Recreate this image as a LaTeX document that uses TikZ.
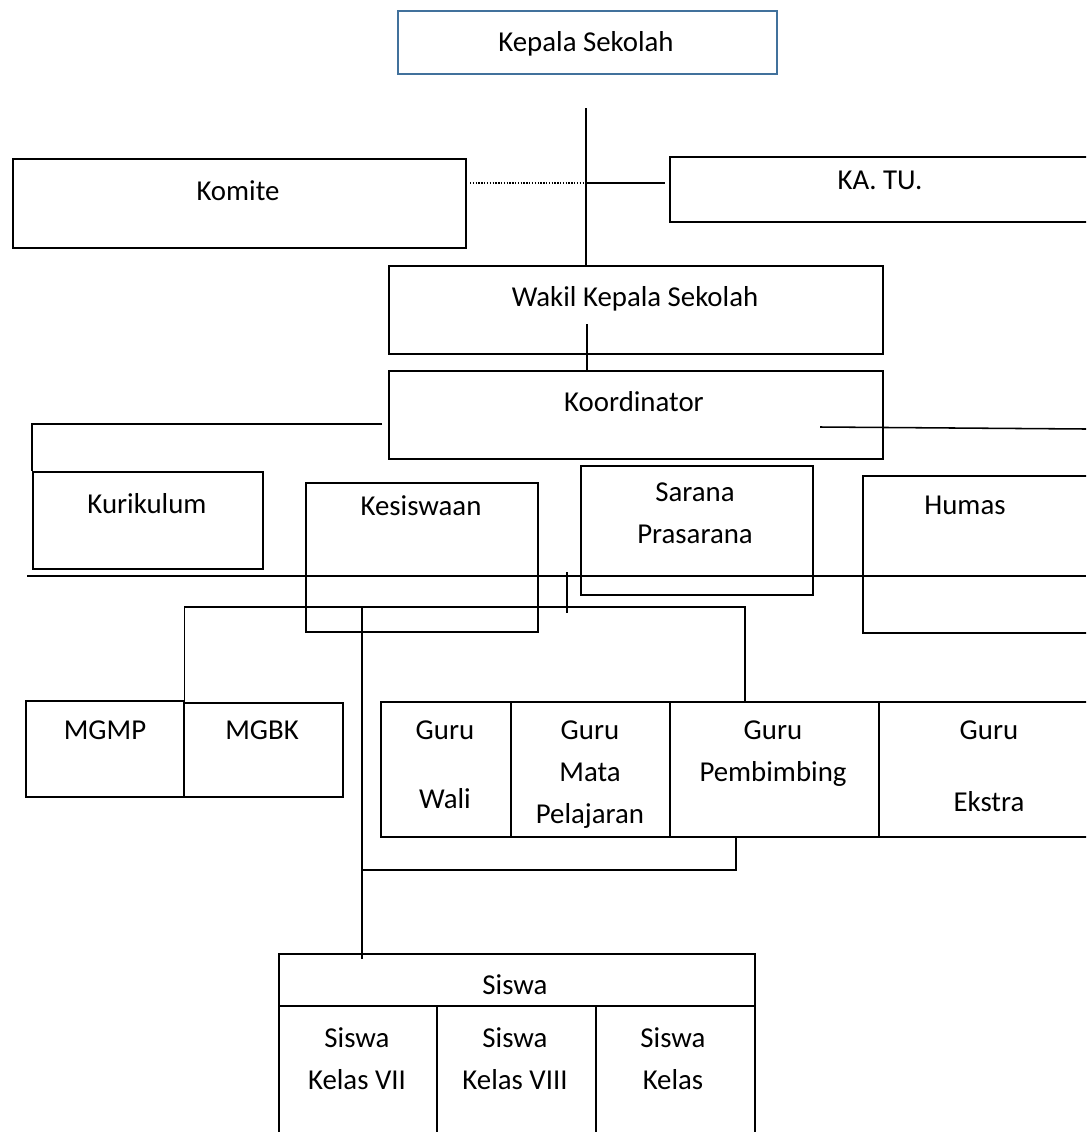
\documentclass[tikz,border=0pt]{standalone}
\usepackage{fontspec}
\setmainfont{Carlito}
\definecolor{kepblue}{RGB}{65,113,156}
\begin{document}
\begin{tikzpicture}[x=0.025cm, y=-0.025cm, line width=1.1pt,
    box/.style={draw, anchor=north west, inner sep=0pt},
    sz/.style 2 args={minimum width=#1*0.025cm, minimum height=#2*0.025cm},
    txt/.style={anchor=north, inner sep=0pt, align=center, font=\fontsize{20.5}{29.9}\selectfont}]
    \useasboundingbox (0,0) rectangle (1086,1132);
    \clip (0,0) rectangle (1086,1132);

    % top part
    \node[box, sz={379}{63}, draw=kepblue, line width=1.6pt] (kepala) at (397,10) {};
    \node[box, sz={453}{89}] (komite) at (12,158) {};
    \node[box, sz={460}{65}] (katu)   at (669,156) {};
    \node[box, sz={494}{88}] (wakil)  at (388,265) {};
    \node[box, sz={494}{88}] (koord)  at (388,370) {};

    \node[txt] (tKepala) at (586,31)  {Kepala Sekolah};
    \node[txt] (tKomite) at (238,180) {Komite};
    \node[txt] (tKatu)   at (880,170) {KA. TU.};
    \node[txt] (tWakil)  at (635,286) {Wakil Kepala Sekolah};
    \node[txt] (tKoord)  at (634,391) {Koordinator};

    % bidang
    \node[box, sz={230}{97}]  (kurikulum) at (32,471) {};
    \node[box, sz={232}{149}] (kesiswaan) at (305,482) {};
    \node[box, sz={232}{129}] (sarana)    at (580,465) {};
    \node[box, sz={260}{157}] (humas)     at (862,475) {};

    \node[txt] (tKurikulum) at (147,493) {Kurikulum};
    \node[txt] (tKesiswaan) at (421,495) {Kesiswaan};
    \node[txt] (tSarana)    at (695,482) {Sarana\\Prasarana};
    \node[txt] (tHumas)     at (965,495) {Humas};

    % guru
    \node[box, sz={158}{96}]  (mgmp)   at (25,700) {};
    \node[box, sz={159}{94}]  (mgbk)   at (183,702) {};
    \node[box, sz={130}{135}] (wali)   at (380,701) {};
    \node[box, sz={159}{135}] (mapel)  at (510,701) {};
    \node[box, sz={209}{135}] (pemb)   at (669,701) {};
    \node[box, sz={240}{135}] (ekstra) at (878,701) {};

    \node[txt] (tMgmp)   at (105,720) {MGMP};
    \node[txt] (tMgbk)   at (262,720) {MGBK};
    \node[txt] (tWali)   at (445,720) {Guru\\[19pt]Wali};
    \node[txt] (tMapel)  at (590,720) {Guru\\Mata\\Pelajaran};
    \node[txt] (tPemb)   at (773,720) {Guru\\Pembimbing};
    \node[txt] (tEkstra) at (989,720) {Guru\\[21pt]Ekstra};

    % siswa
    \node[box, sz={476}{52}]  (siswa)  at (278,953) {};
    \node[box, sz={158}{160}] (kelas7) at (278,1005) {};
    \node[box, sz={159}{160}] (kelas8) at (436,1005) {};
    \node[box, sz={159}{160}] (kelas9) at (595,1005) {};

    \node[txt] (tSiswa)  at (515,974)  {Siswa};
    \node[txt] (tKelas7) at (357,1027) {Siswa\\Kelas VII};
    \node[txt] (tKelas8) at (515,1027) {Siswa\\Kelas VIII};
    \node[txt] (tKelas9) at (673,1027) {Siswa\\Kelas};

    % connectors
    \coordinate (trunk) at (586,108);
    \coordinate (kj)    at (586,183);
    \coordinate (dotL)  at (470,183);
    \coordinate (katuL) at (665,183);
    \draw (trunk) -- (trunk |- wakil.north);
    \draw[densely dotted, line width=1pt] (dotL) -- (kj);
    \draw (kj) -- (katuL);

    \coordinate (wk) at (587,324);
    \draw (wk) -- (wk |- koord.north);

    \coordinate (kl)  at (382,424);
    \coordinate (kr1) at (820,427);
    \coordinate (kr2) at (1086,429);
    \draw (kl) -| (kurikulum.north west);
    \draw (kr1) -- (kr2);

    \coordinate (h1) at (27,576);
    \coordinate (h2) at (1086,576);
    \draw (h1) -- (h2);
    \coordinate (tk1) at (567,572);
    \coordinate (tk2) at (567,613);
    \draw (tk1) -- (tk2);

    \coordinate (br) at (745,607);
    \draw (mgmp.north east) |- (br) -- (br |- pemb.north);
    \coordinate (sv) at (362,607);
    \draw (sv) -- ([yshift=-4pt]sv |- siswa.north);

    \coordinate (pj) at (736,870);
    \draw (pj |- pemb.south) -- (pj) -- (pj -| sv);
\end{tikzpicture}
\end{document}
